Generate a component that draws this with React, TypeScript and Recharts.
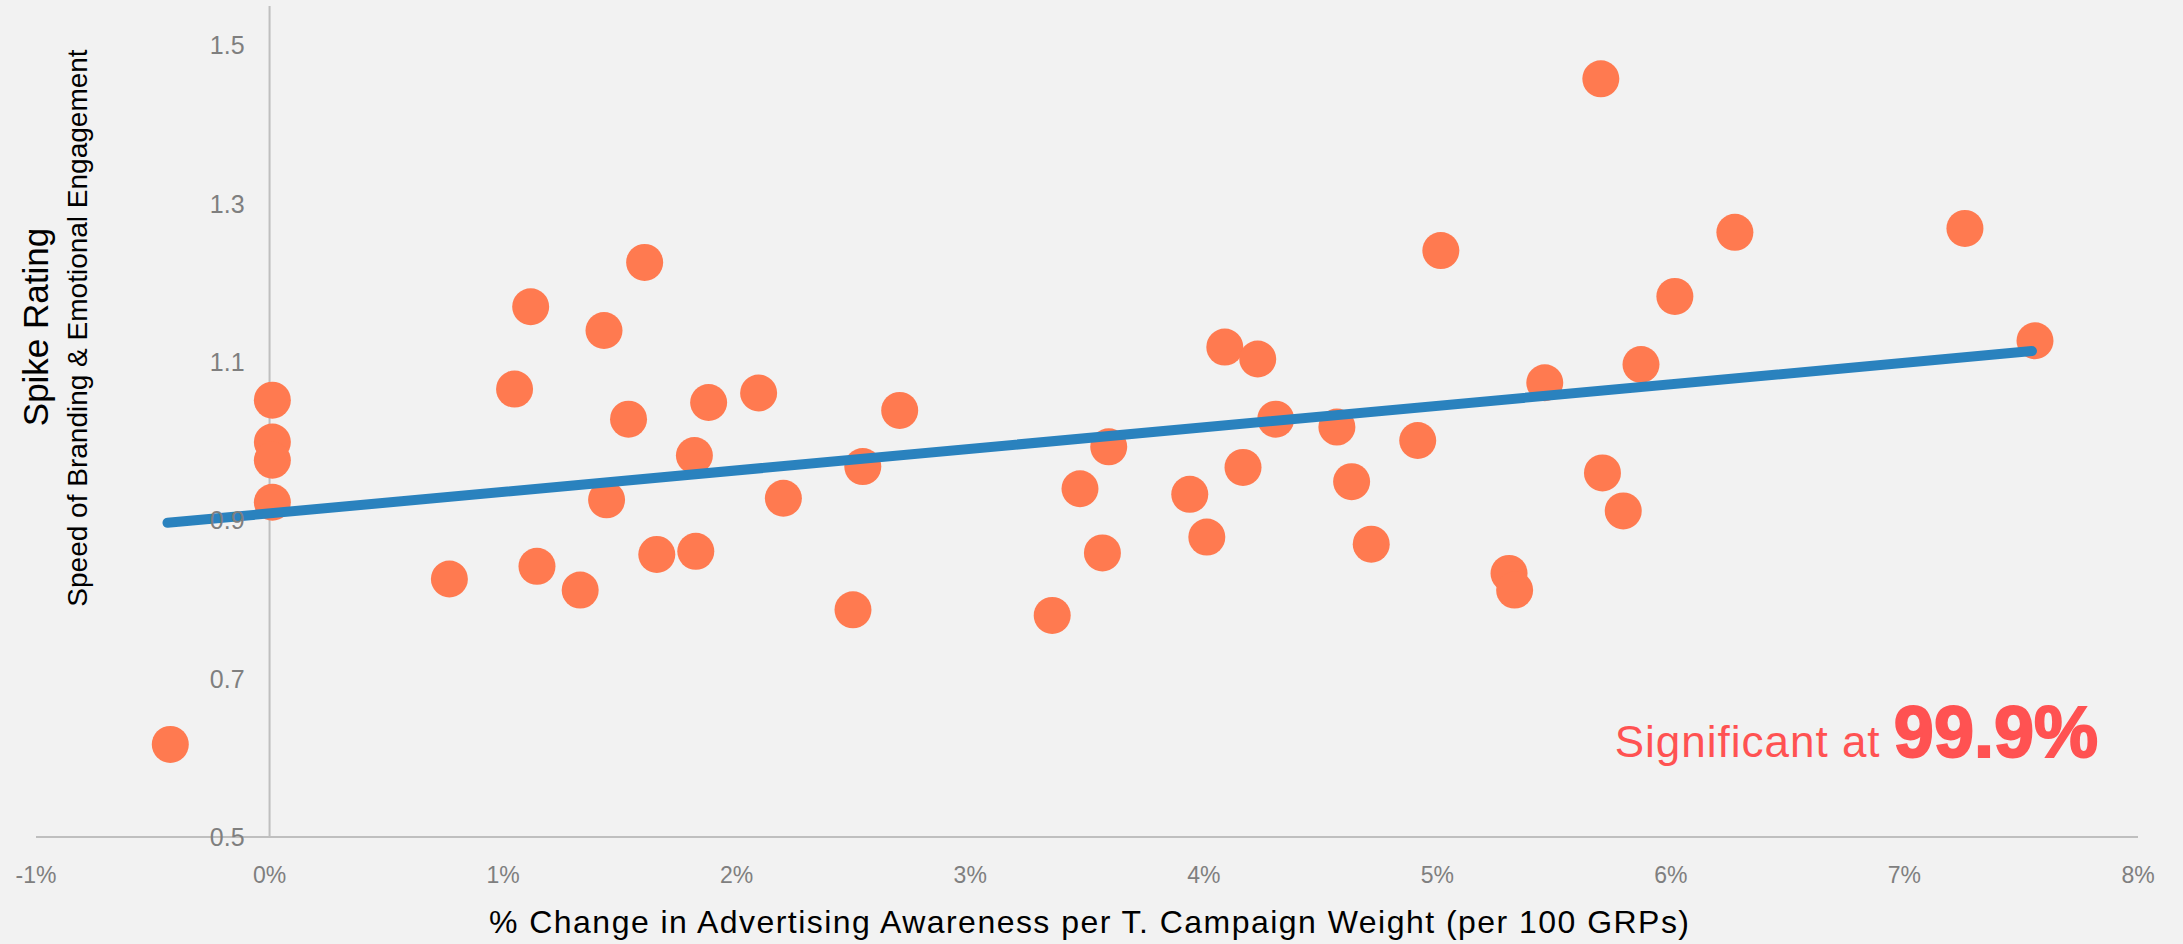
import React from "react";
import {
  ScatterChart,
  Scatter,
  XAxis,
  YAxis,
  ReferenceLine,
  ReferenceDot,
} from "recharts";

// % change in ad awareness per campaign weight (x) vs spike rating (y)
const AWARENESS_CHANGE = [
  -0.425, 0.012, 0.012, 0.012, 0.012, 0.77, 1.049, 1.118, 1.145, 1.33,
  1.432, 1.443, 1.537, 1.606, 1.658, 1.819, 1.825, 1.88, 2.094, 2.2,
  2.498, 2.54, 2.698, 3.351, 3.47, 3.566, 3.593, 3.94, 4.013, 4.09,
  4.168, 4.231, 4.308, 4.57, 4.633, 4.717, 4.916, 5.015, 5.307, 5.331,
  5.46, 5.7, 5.707, 5.796, 5.872, 6.017, 6.274, 7.259, 7.559,
];
const SPIKE_RATING = [
  0.617, 1.052, 0.999, 0.976, 0.923, 0.826, 1.066, 1.17, 0.842, 0.812,
  1.14, 0.926, 1.028, 1.226, 0.857, 0.982, 0.861, 1.049, 1.061, 0.928,
  0.787, 0.968, 1.039, 0.78, 0.94, 0.859, 0.993, 0.933, 0.879, 1.119,
  0.967, 1.104, 1.028, 1.018, 0.949, 0.87, 1.001, 1.241, 0.833, 0.812,
  1.074, 1.458, 0.96, 0.912, 1.097, 1.183, 1.264, 1.269, 1.127,
];

// linear trend endpoints
const TREND_X = [-0.437, 7.546];
const TREND_Y = [0.897, 1.114];

const X_TICKS = [-1, 0, 1, 2, 3, 4, 5, 6, 7, 8];
const Y_TICKS = [0.5, 0.7, 0.9, 1.1, 1.3, 1.5];

const points = AWARENESS_CHANGE.map((x, i) => ({ x, y: SPIKE_RATING[i] }));
const trend = TREND_X.map((x, i) => ({ x, y: TREND_Y[i] }));

const W = 2183;
const H = 944;

const Dot = (props: any) => (
  <circle cx={props.cx} cy={props.cy} r={18.5} fill="#FF7A50" />
);

const NoDot = () => <g />;

export default function App() {
  return (
    <div
      style={{
        position: "relative",
        width: W,
        height: H,
        background: "#F2F2F2",
        fontFamily: "'Liberation Sans', Arial, sans-serif",
      }}
    >
      <style>{`body{margin:0}`}</style>
      <ScatterChart
        width={W}
        height={H}
        margin={{ top: 6, right: 45, bottom: 0, left: 36 }}
      >
        <XAxis
          type="number"
          dataKey="x"
          domain={[-1, 8]}
          ticks={X_TICKS}
          allowDataOverflow
          height={107}
          tickLine={false}
          tickSize={6}
          tickMargin={24}
          axisLine={{ stroke: "#BFBFBF", strokeWidth: 2 }}
          tick={{ fill: "#7F7F7F", fontSize: 23 }}
          tickFormatter={(v: number) => `${v}%`}
        />
        <YAxis
          type="number"
          dataKey="y"
          domain={[0.5, 1.55]}
          allowDataOverflow
          hide
        />
        <ReferenceLine x={0} stroke="#BFBFBF" strokeWidth={2} />
        {Y_TICKS.map((v) => (
          <ReferenceDot
            key={v}
            x={0}
            y={v}
            r={0}
            fill="none"
            stroke="none"
            label={{
              value: v.toFixed(1),
              position: "left",
              offset: 25,
              fill: "#7F7F7F",
              fontSize: 25,
            }}
          />
        ))}
        <Scatter
          data={points}
          fill="#FF7A50"
          shape={Dot}
          isAnimationActive={false}
        />
        <Scatter
          data={trend}
          shape={NoDot}
          line={{ stroke: "#2A82BE", strokeWidth: 10, strokeLinecap: "round" }}
          isAnimationActive={false}
        />
      </ScatterChart>

      <svg
        width={W}
        height={H}
        style={{ position: "absolute", left: 0, top: 0, pointerEvents: "none" }}
      >
        <text
          transform="translate(48,327) rotate(-90)"
          textAnchor="middle"
          fontSize={35}
          fill="#000"
        >
          Spike Rating
        </text>
        <text
          transform="translate(87,328) rotate(-90)"
          textAnchor="middle"
          fontSize={28}
          fill="#000"
        >
          Speed of Branding &amp; Emotional Engagement
        </text>
        <text
          x={489}
          y={933}
          fontSize={32}
          fill="#000"
          textLength={1200}
          lengthAdjust="spacing"
        >
          % Change in Advertising Awareness per T. Campaign Weight (per 100 GRPs)
        </text>
        <text x={2098} y={757} textAnchor="end" fill="#FF5252">
          <tspan fontSize={44} letterSpacing={1}>
            Significant at{" "}
          </tspan>
          <tspan
            fontSize={72}
            fontWeight={700}
            stroke="#FF5252"
            strokeWidth={2}
          >
            99.9%
          </tspan>
        </text>
      </svg>
    </div>
  );
}
